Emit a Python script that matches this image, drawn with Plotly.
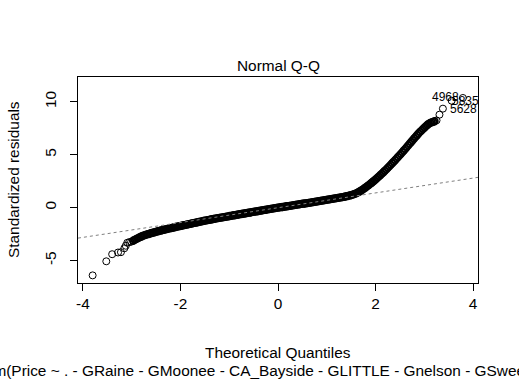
import plotly.graph_objects as go

# ---- data (Normal Q-Q of standardized residuals) ----
tail_low_q = [-3.80, -3.52, -3.40, -3.28, -3.22, -3.15, -3.12, -3.09, -3.05, -3.01]
tail_low_r = [-6.40, -5.07, -4.40, -4.24, -4.21, -3.84, -3.60, -3.32, -3.26, -3.22]

band_q = [
    -2.97, -2.94, -2.91, -2.88, -2.85, -2.82, -2.79, -2.76, -2.73, -2.70,
    -2.67, -2.64, -2.61, -2.58, -2.55, -2.52, -2.49, -2.46, -2.43, -2.40,
    -2.37, -2.34, -2.31, -2.28, -2.25, -2.22, -2.19, -2.16, -2.13, -2.10,
    -2.07, -2.04, -2.01, -1.98, -1.95, -1.92, -1.89, -1.86, -1.83, -1.80,
    -1.77, -1.74, -1.71, -1.68, -1.65, -1.62, -1.59, -1.56, -1.53, -1.50,
    -1.47, -1.44, -1.41, -1.38, -1.35, -1.32, -1.29, -1.26, -1.23, -1.20,
    -1.17, -1.14, -1.11, -1.08, -1.05, -1.02, -0.99, -0.96, -0.93, -0.90,
    -0.87, -0.84, -0.81, -0.78, -0.75, -0.72, -0.69, -0.66, -0.63, -0.60,
    -0.57, -0.54, -0.51, -0.48, -0.45, -0.42, -0.39, -0.36, -0.33, -0.30,
    -0.27, -0.24, -0.21, -0.18, -0.15, -0.12, -0.09, -0.06, -0.03, 0.00,
    0.03, 0.06, 0.09, 0.12, 0.15, 0.18, 0.21, 0.24, 0.27, 0.30,
    0.33, 0.36, 0.39, 0.42, 0.45, 0.48, 0.51, 0.54, 0.57, 0.60,
    0.63, 0.66, 0.69, 0.72, 0.75, 0.78, 0.81, 0.84, 0.87, 0.90,
    0.93, 0.96, 0.99, 1.02, 1.05, 1.08, 1.11, 1.14, 1.17, 1.20,
    1.23, 1.26, 1.29, 1.32, 1.35, 1.38, 1.41, 1.44, 1.47, 1.50,
    1.53, 1.56, 1.59, 1.62, 1.65, 1.68, 1.71, 1.74, 1.77, 1.80,
    1.83, 1.86, 1.89, 1.92, 1.95, 1.98, 2.01, 2.04, 2.07, 2.10,
    2.13, 2.16, 2.19, 2.22, 2.25, 2.28, 2.31, 2.34, 2.37, 2.40,
    2.43, 2.46, 2.49, 2.52, 2.55, 2.58, 2.61, 2.64, 2.67, 2.70,
    2.73, 2.76, 2.79, 2.82, 2.85, 2.88, 2.91, 2.94, 2.97, 3.00,
    3.03, 3.06, 3.09, 3.12, 3.15, 3.18, 3.21,
]
band_r = [
    -3.13, -3.05, -2.98, -2.90, -2.84, -2.77, -2.70, -2.65, -2.60, -2.55,
    -2.51, -2.47, -2.42, -2.38, -2.35, -2.31, -2.27, -2.23, -2.20, -2.16,
    -2.13, -2.09, -2.06, -2.03, -1.99, -1.96, -1.93, -1.90, -1.86, -1.83,
    -1.80, -1.77, -1.74, -1.71, -1.68, -1.65, -1.62, -1.59, -1.56, -1.53,
    -1.50, -1.47, -1.44, -1.41, -1.38, -1.35, -1.32, -1.29, -1.26, -1.23,
    -1.20, -1.18, -1.15, -1.12, -1.10, -1.07, -1.04, -1.02, -0.99, -0.97,
    -0.95, -0.92, -0.90, -0.87, -0.85, -0.82, -0.79, -0.77, -0.74, -0.72,
    -0.70, -0.67, -0.65, -0.62, -0.60, -0.58, -0.55, -0.53, -0.50, -0.48,
    -0.46, -0.43, -0.41, -0.38, -0.36, -0.34, -0.31, -0.29, -0.26, -0.24,
    -0.22, -0.19, -0.17, -0.14, -0.12, -0.10, -0.07, -0.05, -0.02, 0.00,
    0.02, 0.04, 0.06, 0.08, 0.11, 0.13, 0.15, 0.17, 0.19, 0.21,
    0.23, 0.26, 0.28, 0.30, 0.33, 0.35, 0.37, 0.39, 0.41, 0.43,
    0.45, 0.48, 0.50, 0.52, 0.55, 0.57, 0.59, 0.61, 0.64, 0.66,
    0.68, 0.71, 0.73, 0.76, 0.78, 0.80, 0.83, 0.85, 0.88, 0.90,
    0.92, 0.95, 0.97, 1.00, 1.02, 1.05, 1.08, 1.11, 1.15, 1.18,
    1.23, 1.28, 1.32, 1.39, 1.47, 1.55, 1.63, 1.73, 1.82, 1.92,
    2.03, 2.13, 2.24, 2.35, 2.47, 2.58, 2.70, 2.83, 2.95, 3.08,
    3.21, 3.34, 3.48, 3.61, 3.76, 3.90, 4.04, 4.19, 4.33, 4.48,
    4.63, 4.78, 4.93, 5.08, 5.24, 5.40, 5.55, 5.72, 5.88, 6.04,
    6.20, 6.36, 6.53, 6.68, 6.84, 7.00, 7.15, 7.28, 7.42, 7.55,
    7.68, 7.81, 7.92, 8.00, 8.06, 8.11, 8.16,
]

tail_high_q = [3.25, 3.31, 3.38, 3.56, 3.79]
tail_high_r = [8.24, 8.78, 9.35, 10.10, 10.36]

# labelled observations (id, index into the upper tail)
label_ids = ["4968", "5835", "5628"]
label_point = [4, 3, 2]

# reference line through the quartiles
qqline_intercept = -0.01
qqline_slope = 0.70

x_ticks = [-4, -2, 0, 2, 4]
y_ticks = [-5, 0, 5, 10]
x_range = [-4.10, 4.10]
y_range = [-7.12, 12.34]

title_text = "Normal Q-Q"
x_title = "Theoretical Quantiles"
y_title = "Standardized residuals"
sub_caption = "lm(Price ~ . - GRaine - GMoonee - CA_Bayside - GLITTLE - Gnelson - GSweeney ..."

# ---------------------------------------------------------------------------
FONT = "Liberation Sans, Arial, Helvetica, sans-serif"

fig = go.Figure()
# the dense middle of the sample: overlapping circles form a solid band
fig.add_trace(go.Scatter(
    x=band_q, y=band_r, mode="markers",
    marker=dict(symbol="circle-open", size=6.5, color="black", line=dict(width=1.8, color="black")),
    hoverinfo="skip", showlegend=False,
))
# sparse tails: individual circles
fig.add_trace(go.Scatter(
    x=tail_low_q + tail_high_q, y=tail_low_r + tail_high_r, mode="markers",
    marker=dict(symbol="circle-open", size=7, color="black", line=dict(width=1, color="black")),
    hoverinfo="skip", showlegend=False,
))
fig.add_trace(go.Scatter(
    x=x_range, y=[qqline_intercept + qqline_slope * v for v in x_range],
    mode="lines", line=dict(color="#7f7f7f", width=1, dash="dot"),
    hoverinfo="skip", showlegend=False,
))

annotations = []
label_style = [("right", -2, 1), ("left", -2, 0), ("left", 5, 0)]
for lid, idx, (anchor, xs, ys) in zip(label_ids, label_point, label_style):
    annotations.append(dict(
        x=tail_high_q[idx], y=tail_high_r[idx], xref="x", yref="y", text=lid,
        showarrow=False, xanchor=anchor, yanchor="middle", xshift=xs, yshift=ys,
        font=dict(family=FONT, size=12, color="black"),
    ))

annotations += [
    dict(x=0.5, y=1, xref="paper", yref="paper", text=title_text, showarrow=False,
         xanchor="center", yanchor="middle", yshift=12,
         font=dict(family=FONT, size=15.4, color="black")),
    dict(x=0.5, y=0, xref="paper", yref="paper", text=x_title, showarrow=False,
         xanchor="center", yanchor="middle", yshift=-69,
         font=dict(family=FONT, size=15.4, color="black")),
    dict(x=0.5, y=0, xref="paper", yref="paper", text=sub_caption, showarrow=False,
         xanchor="center", yanchor="middle", yshift=-87,
         font=dict(family=FONT, size=15.4, color="black")),
    dict(x=0, y=0.5, xref="paper", yref="paper", text=y_title, showarrow=False,
         xanchor="center", yanchor="middle", xshift=-65, textangle=-90,
         font=dict(family=FONT, size=15.4, color="black")),
]

axis_common = dict(
    showgrid=False, zeroline=False, showline=True, mirror=True,
    linecolor="black", linewidth=1, ticks="outside", ticklen=7,
    tickwidth=1, tickcolor="black",
    tickfont=dict(family=FONT, size=15.4, color="black"),
)
fig.update_layout(
    width=519, height=382,
    margin=dict(l=78, r=41, t=77, b=99),
    paper_bgcolor="white", plot_bgcolor="white",
    xaxis=dict(range=x_range, tickvals=x_ticks, ticktext=[str(v) for v in x_ticks], **axis_common),
    yaxis=dict(range=y_range, tickvals=y_ticks, ticktext=[str(v) for v in y_ticks],
               tickangle=-90, ticklabelstandoff=8, **axis_common),
    annotations=annotations,
    font=dict(family=FONT, color="black"),
)
fig.write_html("out.html", config={"displayModeBar": False, "staticPlot": True})

# remove the browser's default page margin so the figure sits at the window's corner
with open("out.html", "r", encoding="utf-8") as fh:
    html = fh.read()
html = html.replace("<head>", "<head><style>html,body{margin:0;padding:0;overflow:hidden;}</style>", 1)
with open("out.html", "w", encoding="utf-8") as fh:
    fh.write(html)
